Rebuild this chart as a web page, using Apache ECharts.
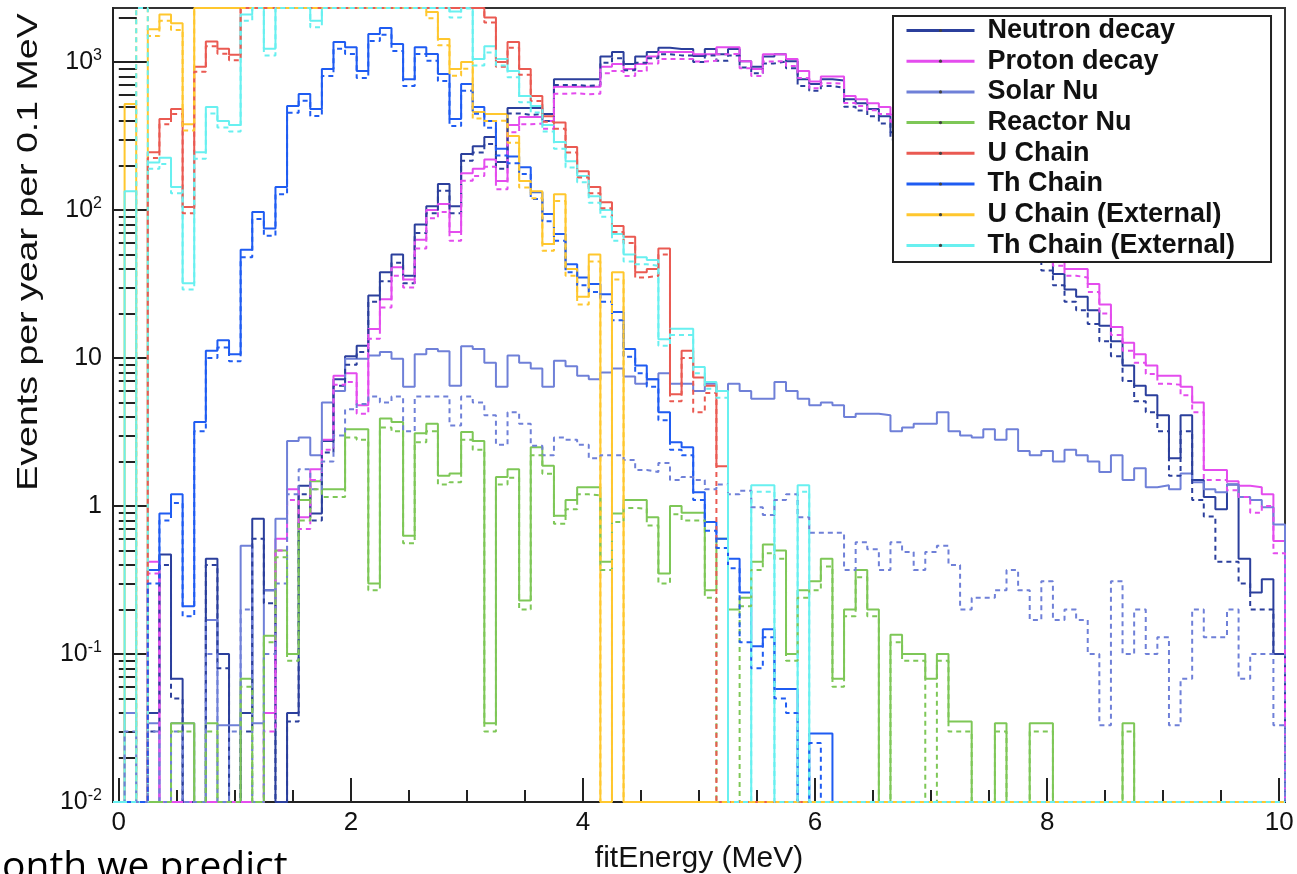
<!DOCTYPE html>
<html>
<head>
<meta charset="utf-8">
<script src="https://cdn.jsdelivr.net/npm/echarts@6/dist/echarts.min.js"></script>
<style>
  html, body { margin: 0; padding: 0; background: #fff; }
  #chart { width: 1297px; height: 874px; }
</style>
</head>
<body>
<div id="chart"></div>
<script>
// Histogram binning: 101 bins of 0.1 MeV centred on 0.0, 0.1, ... 10.0 MeV
const binWidth = 0.1;
const xLo = -0.05;
const xHi = 10.05;
const yLo = 0.01;
const yHi = 2320;
const xTickLabels = [0, 2, 4, 6, 8, 10];
const yTickLabels = [0.01, 0.1, 1, 10, 100, 1000];

const seriesNames = ['Neutron decay', 'Proton decay', 'Solar Nu', 'Reactor Nu',
  'U Chain', 'Th Chain', 'U Chain (External)', 'Th Chain (External)'];

// events per year per 0.1 MeV, one entry per bin (solid = nominal, *Alt = dashed)
const neutronDecay = [
  0, 0, 0, 0.04, 0.47, 0.068, 0, 0, 0.44, 0.1,
  0, 0.04, 0.82, 0.27, 0, 0.04, 1.37, 0.89, 2.75, 7.2,
  10.3, 12.1, 26.5, 38, 50, 36, 80, 106, 150, 106,
  239, 270, 312, 211, 490, 490, 490, 445, 767, 767,
  767, 767, 1090, 1170, 970, 1090, 1170, 1250, 1225, 1225,
  1100, 1225, 1130, 1225, 1015, 930, 1090, 1130, 1015, 767,
  710, 767, 750, 560, 527, 481, 431, 336, 300, 262,
  228, 190, 170, 146, 121, 104, 91, 74, 63, 54,
  46, 37, 29, 26, 21, 16.5, 13, 8.9, 6.5, 5.6,
  4.1, 2.1, 4.1, 1.5, 1.15, 0.95, 1.4, 0.44, 0.26, 0.32,
  0.1];
const neutronDecayAlt = [
  0, 0, 0, 0.03, 0.4, 0.05, 0, 0, 0.4, 0.08,
  0, 0.03, 0.6, 0.22, 0, 0.035, 1.2, 0.8, 2.3, 6.5,
  9.0, 11, 24, 33, 44, 32, 70, 95, 135, 95,
  215, 245, 280, 190, 450, 440, 445, 400, 700, 700,
  690, 700, 990, 1060, 880, 990, 1060, 1130, 1110, 1110,
  1000, 1110, 1020, 1110, 920, 840, 980, 1010, 910, 690,
  640, 690, 670, 500, 470, 430, 385, 300, 268, 232,
  202, 168, 150, 128, 106, 91, 79, 64, 54, 46,
  39, 31, 24, 21, 17, 13, 10.3, 7.0, 5.1, 4.3,
  3.2, 1.6, 3.2, 1.1, 0.85, 0.42, 0.42, 0.3, 0.2, 0.2,
  0.1];
const protonDecay = [
  0, 0, 0, 0.42, 0, 0, 0, 0, 0, 0,
  0, 0, 0, 0.04, 0.6, 1.3, 0.84, 1.77, 2.8, 7.6,
  7.9, 4.8, 15.7, 25, 41, 34, 63, 100, 110, 71,
  177, 190, 220, 157, 375, 425, 425, 400, 680, 680,
  680, 680, 930, 970, 897, 970, 1090, 1170, 1170, 1170,
  1130, 1130, 1262, 1262, 1015, 897, 1130, 1130, 1050, 870,
  740, 800, 800, 590, 560, 527, 497, 440, 385, 335,
  290, 255, 218, 188, 158, 137, 116, 97, 83, 67,
  57, 47, 40, 40, 31.6, 23, 16.2, 12.7, 10.6, 8.9,
  7.6, 7.6, 6.4, 5.0, 1.75, 1.75, 1.47, 1.37, 1.34, 1.2,
  0.58];
const protonDecayAlt = [
  0, 0, 0, 0.35, 0, 0, 0, 0, 0, 0,
  0, 0, 0, 0.03, 0.5, 1.1, 0.7, 1.5, 2.4, 6.6,
  6.9, 4.2, 13.5, 22, 36, 30, 55, 88, 97, 62,
  158, 170, 196, 138, 335, 380, 385, 355, 610, 615,
  605, 612, 840, 870, 805, 870, 980, 1050, 1050, 1050,
  1010, 1020, 1130, 1135, 910, 805, 1010, 1015, 940, 780,
  665, 720, 715, 530, 505, 472, 445, 395, 345, 300,
  260, 228, 195, 168, 141, 122, 104, 87, 74, 60,
  51, 42, 36, 35, 28, 20, 14.3, 11.2, 9.3, 7.8,
  6.7, 6.6, 5.6, 4.3, 1.5, 1.5, 1.28, 1.15, 0.9, 1.0,
  0.48];
const solarNu = [
  0, 0.04, 0, 0.034, 0, 0.034, 0.034, 0, 0.17, 0.033,
  0.033, 0.54, 0.034, 0.27, 0.82, 2.75, 2.9, 2.2, 5.0, 6.0,
  9.9, 9.9, 10.4, 11, 9.9, 6.4, 10.6, 11.5, 11.1, 6.5,
  12.0, 11.5, 9.3, 6.4, 10.4, 9.3, 8.5, 6.4, 9.6, 8.8,
  7.6, 7.2, 8.0, 8.5, 7.5, 6.7, 7.2, 7.9, 6.7, 6.7,
  6.0, 6.7, 6.0, 6.7, 6.0, 5.3, 5.3, 6.9, 6.0, 5.3,
  4.8, 5.0, 4.8, 4.0, 4.2, 4.2, 4.1, 3.2, 3.4, 3.6,
  3.6, 4.3, 3.2, 3.0, 2.9, 3.3, 2.8, 3.3, 2.35, 2.2,
  2.35, 2.0, 2.4, 2.2, 2.0, 1.7, 2.2, 1.5, 1.8, 1.34,
  1.38, 1.3, 1.66, 1.45, 1.3, 1.24, 1.4, 1.15, 1.1, 0.98,
  0.75];
const solarNuAlt = [
  0, 0.03, 0, 0.03, 0, 0.03, 0, 0, 0.1, 0,
  0.03, 0.2, 0, 0.1, 0.3, 1.2, 1.77, 1.3, 2.0, 3.0,
  4.5, 4.9, 5.5, 5.0, 5.5, 3.2, 5.5, 5.5, 5.5, 3.5,
  5.5, 5.0, 4.1, 2.6, 4.3, 3.6, 2.55, 2.2, 2.9, 2.8,
  2.6, 2.1, 2.2, 2.2, 2.05, 1.75, 1.7, 1.95, 1.5, 1.57,
  1.5, 1.3, 1.4, 1.2, 1.27, 0.98, 0.87, 1.1, 1.2, 0.84,
  0.66, 0.66, 0.66, 0.37, 0.57, 0.51, 0.37, 0.57, 0.49, 0.37,
  0.49, 0.54, 0.4, 0.2, 0.24, 0.24, 0.27, 0.37, 0.27, 0.17,
  0.31, 0.17, 0.2, 0.17, 0.1, 0.033, 0.31, 0.1, 0.2, 0.1,
  0.13, 0.033, 0.068, 0.2, 0.13, 0.13, 0.2, 0.068, 0.1, 0.1,
  0.033];
const reactorNu = [
  0, 0, 0, 0, 0, 0.034, 0.034, 0, 0.034, 0,
  0, 0.068, 0, 0.133, 0.5, 0.1, 1.1, 1.47, 1.3, 1.3,
  3.3, 3.3, 0.3, 3.9, 3.7, 0.63, 3.1, 3.6, 1.6, 1.66,
  3.16, 2.75, 0.034, 1.57, 1.77, 0.23, 2.5, 1.87, 0.86, 1.1,
  1.34, 1.34, 0.42, 0.89, 1.1, 1.1, 0.84, 0.35, 1.0, 0.9,
  0.9, 0.27, 0.6, 0.2, 0.24, 0.42, 0.55, 0.5, 0.1, 0.27,
  0.31, 0.44, 0.068, 0.2, 0.37, 0.2, 0, 0.135, 0.1, 0.1,
  0.068, 0.1, 0.035, 0.035, 0, 0, 0.034, 0, 0, 0.034,
  0.034, 0, 0, 0, 0, 0, 0, 0.034, 0, 0,
  0, 0, 0, 0, 0, 0, 0, 0, 0, 0,
  0];
const reactorNuAlt = [
  0, 0, 0, 0, 0, 0.03, 0.03, 0, 0.03, 0,
  0, 0.06, 0, 0.12, 0.45, 0.09, 0.8, 1.3, 1.15, 1.15,
  2.9, 2.8, 0.27, 3.4, 3.2, 0.56, 2.7, 3.2, 1.4, 1.45,
  2.8, 2.4, 0.03, 1.4, 1.55, 0.2, 2.2, 1.65, 0.76, 0.95,
  1.2, 1.18, 0.37, 0.78, 0.97, 0.96, 0.74, 0.3, 0.88, 0.8,
  0.8, 0.24, 0, 0, 0.21, 0.37, 0.48, 0.44, 0.09, 0.24,
  0.27, 0.39, 0.06, 0.18, 0.33, 0.18, 0, 0.12, 0.09, 0.09,
  0, 0.09, 0.03, 0.03, 0, 0, 0.03, 0, 0, 0.03,
  0.03, 0, 0, 0, 0, 0, 0, 0.03, 0, 0,
  0, 0, 0, 0, 0, 0, 0, 0, 0, 0,
  0];
const uChain = [
  0, 0, 0, 246, 412, 481, 105, 930, 1380, 1230,
  1120, 3100, 3600, 3900, 4300, 5000, 5400, 5800, 6100, 6600,
  6800, 7000, 6900, 6700, 6400, 6000, 5400, 4800, 4100, 3500,
  2900, 2500, 2000, 1000, 1365, 897, 590, 431, 390, 267,
  183, 143, 113, 78, 66, 38, 40, 55, 5.7, 11.2,
  7.4, 6.5, 1.86, 0, 0, 0, 0, 0, 0, 0,
  0, 0, 0, 0, 0, 0, 0, 0, 0, 0,
  0, 0, 0, 0, 0, 0, 0, 0, 0, 0,
  0, 0, 0, 0, 0, 0, 0, 0, 0, 0,
  0, 0, 0, 0, 0, 0, 0, 0, 0, 0,
  0];
const uChainAlt = [
  0, 0, 0, 225, 380, 445, 95, 860, 1280, 1140,
  1030, 2900, 3300, 3600, 4000, 4600, 5000, 5300, 5600, 6100,
  6300, 6400, 6300, 6100, 5900, 5500, 5000, 4400, 3800, 3200,
  2700, 2350, 1850, 930, 1250, 820, 545, 395, 355, 245,
  166, 130, 103, 71, 60, 35, 36, 50, 5.1, 10.0,
  4.3, 5.8, 0, 0, 0, 0, 0, 0, 0, 0,
  0, 0, 0, 0, 0, 0, 0, 0, 0, 0,
  0, 0, 0, 0, 0, 0, 0, 0, 0, 0,
  0, 0, 0, 0, 0, 0, 0, 0, 0, 0,
  0, 0, 0, 0, 0, 0, 0, 0, 0, 0,
  0];
const thChain = [
  0, 0, 0, 0.37, 0.89, 1.2, 0.21, 3.7, 11.2, 13.2,
  10.6, 54, 97, 75, 143, 505, 608, 481, 897, 1365,
  1262, 869, 1546, 1700, 1325, 767, 1262, 1132, 830, 412,
  710, 497, 400, 260, 230, 195, 132, 94, 69, 43,
  35, 31.6, 27, 20.5, 11.5, 8.9, 7.2, 4.3, 2.7, 2.5,
  1.24, 0.78, 0.6, 0.44, 0.26, 0.113, 0.147, 0.058, 0.058, 0,
  0.029, 0.029, 0, 0, 0, 0, 0, 0, 0, 0,
  0, 0, 0, 0, 0, 0, 0, 0, 0, 0,
  0, 0, 0, 0, 0, 0, 0, 0, 0, 0,
  0, 0, 0, 0, 0, 0, 0, 0, 0, 0,
  0];
const thChainAlt = [
  0, 0, 0, 0.3, 0.8, 1.05, 0.18, 3.2, 10, 11.8,
  9.5, 48, 87, 67, 128, 455, 548, 432, 805, 1230,
  1135, 780, 1390, 1530, 1190, 690, 1135, 1020, 745, 370,
  640, 447, 360, 234, 207, 175, 119, 84, 62, 38,
  31, 28, 24, 18, 10.2, 7.9, 6.4, 3.8, 2.4, 2.2,
  1.1, 0.68, 0.52, 0.38, 0.12, 0.08, 0.13, 0.05, 0.04, 0,
  0.025, 0, 0, 0, 0, 0, 0, 0, 0, 0,
  0, 0, 0, 0, 0, 0, 0, 0, 0, 0,
  0, 0, 0, 0, 0, 0, 0, 0, 0, 0,
  0, 0, 0, 0, 0, 0, 0, 0, 0, 0,
  0];
const uChainExt = [
  0, 520, 0, 1670, 2100, 1830, 380, 2600, 3000, 3500,
  4000, 4600, 5200, 5800, 6300, 6600, 6800, 6900, 6700, 6400,
  6000, 5400, 4800, 4200, 3600, 3000, 2600, 2180, 1430, 897,
  1000, 460, 445, 445, 317, 157, 134, 59, 128, 40,
  26, 50, 0, 38, 0, 0, 0, 0, 0, 0,
  0, 0, 0, 0, 0, 0, 0, 0, 0, 0,
  0, 0, 0, 0, 0, 0, 0, 0, 0, 0,
  0, 0, 0, 0, 0, 0, 0, 0, 0, 0,
  0, 0, 0, 0, 0, 0, 0, 0, 0, 0,
  0, 0, 0, 0, 0, 0, 0, 0, 0, 0,
  0];
const uChainExtAlt = [
  0, 0, 3000, 1500, 1900, 1650, 345, 2400, 2800, 3200,
  3700, 4200, 4800, 5300, 5700, 6000, 6200, 6300, 6100, 5800,
  5500, 4900, 4400, 3800, 3300, 2800, 2400, 1980, 1300, 810,
  900, 415, 400, 402, 285, 142, 120, 53, 115, 36,
  23, 45, 0, 34, 0, 0, 0, 0, 0, 0,
  0, 0, 0, 0, 0, 0, 0, 0, 0, 0,
  0, 0, 0, 0, 0, 0, 0, 0, 0, 0,
  0, 0, 0, 0, 0, 0, 0, 0, 0, 0,
  0, 0, 0, 0, 0, 0, 0, 0, 0, 0,
  0, 0, 0, 0, 0, 0, 0, 0, 0, 0,
  0];
const thChainExt = [
  0, 134, 0, 210, 226, 143, 32, 246, 497, 400,
  375, 2100, 2600, 1230, 2900, 3400, 3600, 1900, 3500, 3900,
  4200, 4400, 4500, 4300, 4000, 3700, 3300, 3000, 2700, 2200,
  2500, 1050, 1280, 1050, 870, 590, 505, 375, 288, 214,
  170, 124, 100, 69, 50, 48, 46, 13.4, 15.8, 15.8,
  8.7, 6.9, 6.0, 0, 0, 1.38, 1.38, 0, 0, 1.38,
  0, 0, 0, 0, 0, 0, 0, 0, 0, 0,
  0, 0, 0, 0, 0, 0, 0, 0, 0, 0,
  0, 0, 0, 0, 0, 0, 0, 0, 0, 0,
  0, 0, 0, 0, 0, 0, 0, 0, 0, 0,
  0];
const thChainExtAlt = [
  0, 0, 3000, 190, 205, 130, 29, 222, 450, 362,
  340, 1900, 2400, 1110, 2700, 3100, 3300, 1720, 3200, 3600,
  3800, 4000, 4100, 3900, 3600, 3400, 3000, 2700, 2450, 2000,
  2300, 950, 1160, 950, 790, 535, 457, 340, 260, 194,
  154, 112, 90, 62, 45, 43, 42, 12.1, 14.3, 14.3,
  7.9, 6.2, 5.4, 0, 0, 1.25, 1.25, 0, 0, 1.25,
  0, 0, 0, 0, 0, 0, 0, 0, 0, 0,
  0, 0, 0, 0, 0, 0, 0, 0, 0, 0,
  0, 0, 0, 0, 0, 0, 0, 0, 0, 0,
  0, 0, 0, 0, 0, 0, 0, 0, 0, 0,
  0];

const colors = ['#2b3f9c', '#e44cee', '#6f80d8', '#7ec757',
  '#ea5a52', '#1f5cf2', '#ffc72e', '#68f0f0'];
const solidSets = [neutronDecay, protonDecay, solarNu, reactorNu,
  uChain, thChain, uChainExt, thChainExt];
const dashedSets = [neutronDecayAlt, protonDecayAlt, solarNuAlt, reactorNuAlt,
  uChainAlt, thChainAlt, uChainExtAlt, thChainExtAlt];

// Outline of a histogram: bins above/below the frame are drawn on its edge
function histogramOutline(values) {
  const clamp = v => Math.min(Math.max(v, yLo), yHi);
  const pts = [[xLo, yLo]];
  values.forEach((v, i) => pts.push([xLo + i * binWidth, clamp(v)]));
  pts.push([xHi, clamp(values[values.length - 1])]);
  pts.push([xHi, yLo]);
  return pts;
}

const series = [];
solidSets.forEach((vals, k) => {
  series.push({
    name: seriesNames[k],
    type: 'line',
    step: 'end',
    data: histogramOutline(vals),
    symbol: 'circle',
    symbolSize: 3,
    showSymbol: false,
    lineStyle: { color: colors[k], width: 2 },
    itemStyle: { color: '#444' },
    z: 3,
    silent: true
  });
});
dashedSets.forEach((vals, k) => {
  series.push({
    name: seriesNames[k] + ' \u2013 dashed',
    type: 'line',
    step: 'end',
    data: histogramOutline(vals),
    symbol: 'none',
    lineStyle: { color: colors[k], width: 2, type: [5, 4] },
    itemStyle: { color: colors[k] },
    z: 4,
    silent: true
  });
});

// minor tick positions
const xMinor = [];
for (let i = 1; i < 20; i++) if (i % 4 !== 0) xMinor.push(i * 0.5);
const yMinor = [];
for (let e = -2; e <= 3; e++) {
  for (let m = 2; m <= 9; m++) {
    const v = m * Math.pow(10, e);
    if (v < yHi) yMinor.push(Number(v.toPrecision(3)));
  }
}

function powerLabel(v) {
  const e = Math.round(Math.log10(v));
  if (e === 0) return '1';
  if (e === 1) return '10';
  return '10{sup|' + e + '}';
}

const axisFont = 'Liberation Sans, Arial, sans-serif';
const chart = echarts.init(document.getElementById('chart'), null, { renderer: 'canvas' });
chart.setOption({
  animation: false,
  backgroundColor: '#fff',
  grid: {
    left: 113, top: 8, width: 1172, height: 794,
    outerBoundsMode: 'none',
    show: true, borderColor: '#333', borderWidth: 2, backgroundColor: 'transparent'
  },
  legend: {
    data: seriesNames,
    orient: 'vertical',
    left: 893, top: 16,
    itemWidth: 68, itemHeight: 4, itemGap: 3.7,
    padding: [1, 36, 3, 12],
    backgroundColor: '#fff', borderColor: '#222', borderWidth: 2, borderRadius: 0,
    selectedMode: false,
    lineStyle: { width: 3 },
    textStyle: {
      fontFamily: axisFont, fontWeight: 'bold', fontSize: 27, color: '#111',
      lineHeight: 27, padding: [0, 0, 0, 8]
    },
    z: 10
  },
  xAxis: [{
    type: 'value', min: xLo, max: xHi,
    name: 'fitEnergy (MeV)', nameLocation: 'middle', nameGap: 42,
    nameTextStyle: { fontFamily: axisFont, fontSize: 30, color: '#111' },
    axisLine: { show: true, onZero: false, lineStyle: { color: '#222', width: 2 } },
    axisTick: { show: true, inside: true, length: 24, customValues: xTickLabels, lineStyle: { color: '#222', width: 2 } },
    axisLabel: { show: true, customValues: xTickLabels, margin: 8, fontFamily: axisFont, fontSize: 26, color: '#111' },
    splitLine: { show: false }
  }, {
    type: 'value', min: xLo, max: xHi, position: 'bottom', offset: 0,
    axisLine: { show: false },
    axisTick: { show: true, inside: true, length: 12, customValues: xMinor, lineStyle: { color: '#222', width: 2 } },
    axisLabel: { show: false },
    splitLine: { show: false }
  }],
  yAxis: [{
    type: 'log', logBase: 10, min: yLo, max: yHi,
    axisLine: { show: true, onZero: false, lineStyle: { color: '#222', width: 2 } },
    axisTick: { show: true, inside: true, length: 36, customValues: yTickLabels, lineStyle: { color: '#222', width: 2 } },
    axisLabel: {
      show: true, customValues: yTickLabels, margin: 11,
      formatter: powerLabel,
      fontFamily: axisFont, fontSize: 25, color: '#111',
      rich: { sup: { fontFamily: axisFont, fontSize: 16, color: '#111', padding: [0, 0, 12, 0] } }
    },
    splitLine: { show: false }
  }, {
    type: 'log', logBase: 10, min: yLo, max: yHi, position: 'left', offset: 0,
    axisLine: { show: false },
    axisTick: { show: true, inside: true, length: 18, customValues: yMinor, lineStyle: { color: '#222', width: 2 } },
    axisLabel: { show: false },
    splitLine: { show: false }
  }],
  graphic: [{
    type: 'text',
    x: 29, y: 252,
    rotation: Math.PI / 2,
    scaleX: 1.25,
    style: {
      text: 'Events per year per 0.1 MeV',
      font: '30px Liberation Sans, Arial, sans-serif',
      fill: '#111', align: 'center', verticalAlign: 'middle'
    }
  }, {
    type: 'text',
    left: 2, top: 848,
    style: {
      text: 'onth we predict',
      font: '39px "Open Sans", sans-serif',
      fill: '#000'
    }
  }],
  series: series
});
</script>
</body>
</html>
